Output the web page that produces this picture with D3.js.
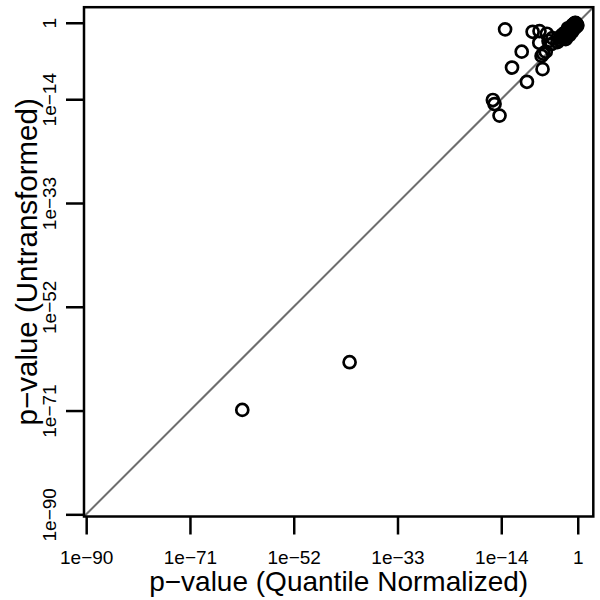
<!DOCTYPE html>
<html>
<head>
<meta charset="utf-8">
<script src="https://cdn.jsdelivr.net/npm/d3@7"></script>
<style>
  html, body { margin: 0; padding: 0; background: #fff; }
  svg { display: block; font-family: "Liberation Sans", Arial, Helvetica, sans-serif; }
</style>
</head>
<body>
<svg id="chart" width="600" height="600"></svg>
<script>
// p-values: quantile normalized (x) vs untransformed (y), paired by index
const pQuantile = [
  3.8e-62, 1.7e-42,
  2.9e-16, 5.9e-16, 4.8e-15,
  5.0e-14, 5.5e-9, 1.0e-7, 2.2e-6, 9.1e-8,
  5.5e-11, 4.9e-7, 1.4e-6, 2.4e-7, 9.3e-13, 3.6e-7, 5.0e-10,
  4.5e-6, 2.4e-5, 1.6e-5,
  1.05e-3, 2.4e-3, 5.6e-3, 3.7e-3, 1.3e-2, 1.9e-2, 4.6e-2, 6.9e-2,
  1.6e-1, 1.05e-1, 2.5e-1, 5.6e-1, 3.7e-1, 8.5e-1, 3.0e-2, 4.6e-4, 1.95e-4,
  1.0e-2, 1.0e-1, 3.2e-1, 5.0e-1, 7.1e-1, 2.0e-1, 4.0e-2, 1.6e-3, 7.9e-4,
  1.6e-2, 6.3e-3, 1.0e-1, 3.2e-1
];
const pUntransformed = [
  1.3e-71, 7.1e-63,
  7.2e-15, 1.3e-15, 1.0e-17,
  6.2e-2, 2.2e-2, 3.0e-2, 9.8e-3, 2.2e-4,
  5.1e-6, 2.2e-6, 5.1e-6, 8.5e-7, 6.3e-9, 3.2e-9, 1.55e-11,
  4.6e-4, 1.6e-3, 1.3e-4,
  1.6e-3, 3.7e-3, 2.4e-3, 1.3e-2, 8.5e-3, 4.6e-2, 1.9e-2, 1.05e-1,
  6.9e-2, 3.7e-1, 2.5e-1, 5.6e-1, 9.5e-1, 3.7e-1, 5.6e-3, 6.9e-4, 2.95e-4,
  2.5e-2, 2.0e-1, 1.26e-1, 7.9e-1, 2.5e-1, 5.6e-1, 7.9e-2, 6.3e-3, 3.2e-3,
  1.0e-1, 1.0e-3, 2.5e-2, 8.9e-1
];
const tickValues = [1e-90, 1e-71, 1e-52, 1e-33, 1e-14, 1];
const tickLabels = ["1e\u221290", "1e\u221271", "1e\u221252", "1e\u221233", "1e\u221214", "1"];
const axisLimits = [Math.pow(10, -90.4), Math.pow(10, 2.85)];
const xTitle = "p\u2212value (Quantile Normalized)";
const yTitle = "p\u2212value (Untransformed)";

const points = pQuantile.map((d, i) => ({ x: d, y: pUntransformed[i] }));

const svg = d3.select("#chart");
const plotL = 84, plotR = 593.3, plotT = 7.2, plotB = 516.5;

const x = d3.scaleLog().domain(axisLimits).range([plotL, plotR]);
const y = d3.scaleLog().domain(axisLimits).range([plotB, plotT]);

svg.append("clipPath").attr("id", "plotclip")
  .append("rect").attr("x", plotL).attr("y", plotT)
  .attr("width", plotR - plotL).attr("height", plotB - plotT);

// diagonal reference line y = x
svg.append("line")
  .attr("clip-path", "url(#plotclip)")
  .attr("x1", x(axisLimits[0])).attr("y1", y(axisLimits[0]))
  .attr("x2", x(axisLimits[1])).attr("y2", y(axisLimits[1]))
  .attr("stroke", "#6e6e6e").attr("stroke-width", 2);

// points
svg.append("g").selectAll("circle").data(points).enter().append("circle")
  .attr("cx", d => x(d.x)).attr("cy", d => y(d.y)).attr("r", 6)
  .attr("fill", "none").attr("stroke", "#000").attr("stroke-width", 2.7);

// box
svg.append("rect")
  .attr("x", plotL).attr("y", plotT)
  .attr("width", plotR - plotL).attr("height", plotB - plotT)
  .attr("fill", "none").attr("stroke", "#000").attr("stroke-width", 2.5);

const fmt = (d) => tickLabels[tickValues.indexOf(d)];

const xAxis = svg.append("g").attr("transform", `translate(0,${plotB})`)
  .call(d3.axisBottom(x).tickValues(tickValues).tickFormat(fmt).tickSize(18).tickPadding(16));
const yAxis = svg.append("g").attr("transform", `translate(${plotL},0)`)
  .call(d3.axisLeft(y).tickValues(tickValues).tickFormat(fmt).tickSize(18).tickPadding(12));

[xAxis, yAxis].forEach(g => {
  g.select(".domain").remove();
  g.selectAll(".tick line").attr("stroke", "#000").attr("stroke-width", 2.5);
  g.selectAll(".tick text").attr("fill", "#000")
    .style("font-size", "19px")
    .style("font-family", "'Liberation Sans', Arial, Helvetica, sans-serif");
});

// rotate y tick labels to run parallel to the axis
yAxis.selectAll(".tick text")
  .attr("x", null).attr("dy", null)
  .attr("text-anchor", "middle")
  .attr("transform", "translate(-28,0) rotate(-90)")
  .attr("y", 0);

// axis titles
svg.append("text")
  .attr("x", (plotL + plotR) / 2).attr("y", 591)
  .attr("text-anchor", "middle")
  .style("font-size", "28px")
  .text(xTitle);

svg.append("text")
  .attr("transform", `translate(37,${(plotT + plotB) / 2}) rotate(-90)`)
  .attr("text-anchor", "middle")
  .style("font-size", "29.5px")
  .text(yTitle);
</script>
</body>
</html>
